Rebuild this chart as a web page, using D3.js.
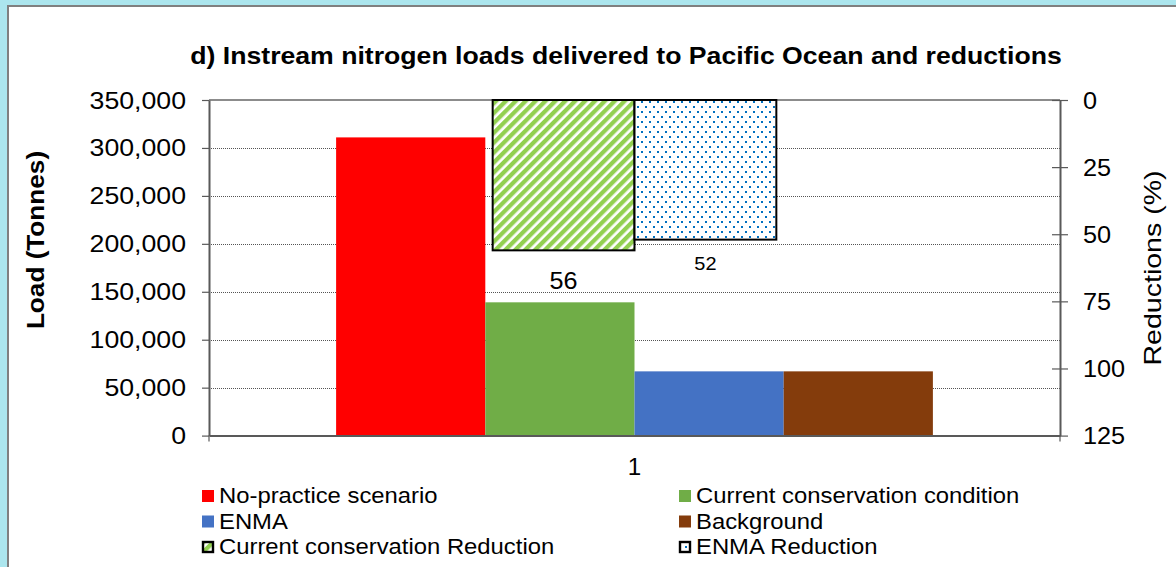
<!DOCTYPE html>
<html>
<head>
<meta charset="utf-8">
<script src="https://cdn.jsdelivr.net/npm/d3@7"></script>
<style>
  body { margin: 0; background: #ace6ee; }
  svg text { font-family: "Liberation Sans", Arial, sans-serif; fill: #000; }
</style>
</head>
<body>
<svg id="chart" width="1176" height="567"></svg>
<script>
// ---- data ----
const categories = ["1"];
const noPractice = [311000];
const currentCondition = [139000];
const enma = [67000];
const background = [67000];
const currentReduction = [56];
const enmaReduction = [52];
const loadTicks = [0, 50000, 100000, 150000, 200000, 250000, 300000, 350000];
const reductionTicks = [0, 25, 50, 75, 100, 125];

const loadSeries = [
  { name: "No-practice scenario", values: noPractice, color: "#ff0000" },
  { name: "Current conservation condition", values: currentCondition, color: "#70ad47" },
  { name: "ENMA", values: enma, color: "#4472c4" },
  { name: "Background", values: background, color: "#843c0c" }
];
const reductionSeries = [
  { name: "Current conservation Reduction", values: currentReduction, fill: "url(#hatchGreen)", labelSize: 24 },
  { name: "ENMA Reduction", values: enmaReduction, fill: "url(#dotsBlue)", labelSize: 19 }
];

// ---- layout ----
const svg = d3.select("#chart");
const plot = { left: 209, right: 1060, top: 100, bottom: 435.6 };

// panel
svg.append("rect")
  .attr("x", 0).attr("y", 0).attr("width", 1176).attr("height", 567)
  .attr("fill", "#ace6ee");
svg.append("rect")
  .attr("x", 8).attr("y", 6).attr("width", 1200).attr("height", 600)
  .attr("fill", "#fff").attr("stroke", "#808080").attr("stroke-width", 2);

// patterns
const defs = svg.append("defs");
const hatch = defs.append("pattern")
  .attr("id", "hatchGreen").attr("patternUnits", "userSpaceOnUse")
  .attr("width", 7).attr("height", 7)
  .attr("patternTransform", "rotate(45)");
hatch.append("rect").attr("width", 7).attr("height", 7).attr("fill", "#fff");
hatch.append("rect").attr("width", 4.3).attr("height", 7).attr("fill", "#92d050");

const dots = defs.append("pattern")
  .attr("id", "dotsBlue").attr("patternUnits", "userSpaceOnUse")
  .attr("width", 8).attr("height", 10);
dots.append("rect").attr("width", 8).attr("height", 10).attr("fill", "#fff");
dots.append("rect").attr("x", 1).attr("y", 1).attr("width", 2).attr("height", 2).attr("fill", "#0070c0");
dots.append("rect").attr("x", 5).attr("y", 6).attr("width", 2).attr("height", 2).attr("fill", "#0070c0");

// text helper: horizontally widened glyphs
function label(g, txt, x, y, size, opts = {}) {
  const sx = opts.sx || 1.14;
  const rot = opts.rotate || 0;
  return g.append("text")
    .attr("transform", `translate(${x},${y}) rotate(${rot}) scale(${sx},1)`)
    .attr("text-anchor", opts.anchor || "middle")
    .attr("font-size", size)
    .attr("font-weight", opts.bold ? "bold" : "normal")
    .text(txt);
}

// ---- scales ----
const yLoad = d3.scaleLinear().domain([0, 350000]).range([plot.bottom, plot.top]);
const yRed = d3.scaleLinear().domain([0, 125]).range([plot.top, plot.bottom]);

const xLoad = d3.scaleBand().domain(categories).range([plot.left, plot.right]).paddingOuter(0.213);
const xLoadInner = d3.scaleBand().domain(loadSeries.map(d => d.name)).range([0, xLoad.bandwidth()]);
const xRed = d3.scaleBand().domain(categories).range([plot.left, plot.right]).paddingOuter(1.0);
const xRedInner = d3.scaleBand().domain(reductionSeries.map(d => d.name)).range([0, xRed.bandwidth()]);

// ---- gridlines ----
svg.append("g")
  .selectAll("line")
  .data(loadTicks.filter(t => t > 0 && t < 350000))
  .join("line")
  .attr("x1", plot.left).attr("x2", plot.right)
  .attr("y1", d => Math.round(yLoad(d)) + 0.5).attr("y2", d => Math.round(yLoad(d)) + 0.5)
  .attr("stroke", "#555").attr("stroke-width", 1).attr("stroke-dasharray", "1,1");

// top border of plot
svg.append("line")
  .attr("x1", plot.left).attr("x2", plot.right)
  .attr("y1", plot.top).attr("y2", plot.top)
  .attr("stroke", "#8c8c8c").attr("stroke-width", 2);

// ---- load bars ----
const barG = svg.append("g");
loadSeries.forEach(s => {
  barG.selectAll(null)
    .data(categories.map((c, i) => ({ c, v: s.values[i] })))
    .join("rect")
    .attr("x", d => xLoad(d.c) + xLoadInner(s.name))
    .attr("width", xLoadInner.bandwidth())
    .attr("y", d => yLoad(d.v))
    .attr("height", d => yLoad(0) - yLoad(d.v))
    .attr("fill", s.color);
});

// ---- reduction bars (secondary axis, hanging from the top) ----
const redG = svg.append("g");
reductionSeries.forEach(s => {
  const data = categories.map((c, i) => ({ c, v: s.values[i] }));
  redG.selectAll(null)
    .data(data)
    .join("rect")
    .attr("x", d => xRed(d.c) + xRedInner(s.name))
    .attr("width", xRedInner.bandwidth())
    .attr("y", yRed(0))
    .attr("height", d => yRed(d.v) - yRed(0))
    .attr("fill", s.fill)
    .attr("stroke", "#000").attr("stroke-width", 2);
  data.forEach(d => {
    label(redG, d.v, xRed(d.c) + xRedInner(s.name) + xRedInner.bandwidth() / 2,
      yRed(d.v) + s.labelSize * 1.6, s.labelSize, { sx: 1.05 });
  });
});

// ---- axes ----
// left axis
const leftAxis = svg.append("g").attr("transform", `translate(${plot.left},0)`)
  .call(d3.axisLeft(yLoad).tickValues(loadTicks).tickFormat(d3.format(",")).tickSizeInner(7).tickSizeOuter(0));
leftAxis.select(".domain").attr("stroke", "#595959").attr("stroke-width", 2);
leftAxis.selectAll(".tick line").attr("stroke", "#595959").attr("stroke-width", 1.2);
leftAxis.selectAll(".tick text").remove();
leftAxis.selectAll(".tick").each(function (d) {
  label(d3.select(this), d3.format(",")(d), -23, 8, 23, { anchor: "end", sx: 1.16 });
});

// right axis (reversed, ticks crossing)
const rightAxis = svg.append("g").attr("transform", `translate(${plot.right},0)`)
  .call(d3.axisRight(yRed).tickValues(reductionTicks).tickSizeInner(8).tickSizeOuter(0));
rightAxis.select(".domain").attr("stroke", "#595959").attr("stroke-width", 2);
rightAxis.selectAll(".tick line").attr("x1", -8).attr("stroke", "#595959").attr("stroke-width", 1.2);
rightAxis.selectAll(".tick text").remove();
rightAxis.selectAll(".tick").each(function (d) {
  label(d3.select(this), d, 23, 8, 23, { anchor: "start", sx: 1.1 });
});

// bottom axis
const bottomAxis = svg.append("g").attr("transform", `translate(0,${plot.bottom})`)
  .call(d3.axisBottom(xLoad).tickSize(0).tickSizeOuter(0));
bottomAxis.select(".domain").attr("stroke", "#595959").attr("stroke-width", 2);
bottomAxis.selectAll(".tick text").remove();
bottomAxis.selectAll(".tick").each(function (d) {
  label(d3.select(this), d, 0, 39, 23, { sx: 1.05 });
});
[plot.left, plot.right].forEach(x => {
  bottomAxis.append("line").attr("x1", x).attr("x2", x).attr("y1", 0).attr("y2", 6)
    .attr("stroke", "#595959").attr("stroke-width", 1.2);
});

// ---- titles ----
label(svg, "d) Instream nitrogen loads delivered to Pacific Ocean and reductions", 626, 64, 23, { bold: true, sx: 1.158 });
label(svg, "Load (Tonnes)", 44, 240, 24, { bold: true, rotate: -90, sx: 1.09 });
label(svg, "Reductions (%)", 1161, 268, 24, { rotate: -90, sx: 1.19 });

// ---- legend ----
const legendItems = [
  { name: loadSeries[0].name, fill: loadSeries[0].color, col: 0, row: 0 },
  { name: loadSeries[1].name, fill: loadSeries[1].color, col: 1, row: 0 },
  { name: loadSeries[2].name, fill: loadSeries[2].color, col: 0, row: 1 },
  { name: loadSeries[3].name, fill: loadSeries[3].color, col: 1, row: 1 },
  { name: reductionSeries[0].name, fill: reductionSeries[0].fill, col: 0, row: 2, outlined: true },
  { name: reductionSeries[1].name, fill: reductionSeries[1].fill, col: 1, row: 2, outlined: true }
];
const colX = [202, 679];
const rowY = [503, 528.5, 554];
const legend = svg.append("g");
legendItems.forEach(it => {
  const x = colX[it.col], y = rowY[it.row];
  legend.append("rect")
    .attr("x", it.outlined ? x + 1 : x).attr("y", it.outlined ? y - 12 : y - 13)
    .attr("width", it.outlined ? 10 : 12).attr("height", it.outlined ? 10 : 12)
    .attr("fill", it.fill)
    .attr("stroke", it.outlined ? "#000" : "none").attr("stroke-width", 2.4);
  label(legend, it.name, x + 17, y, 22.5, { anchor: "start", sx: 1.06 });
});
</script>
</body>
</html>
